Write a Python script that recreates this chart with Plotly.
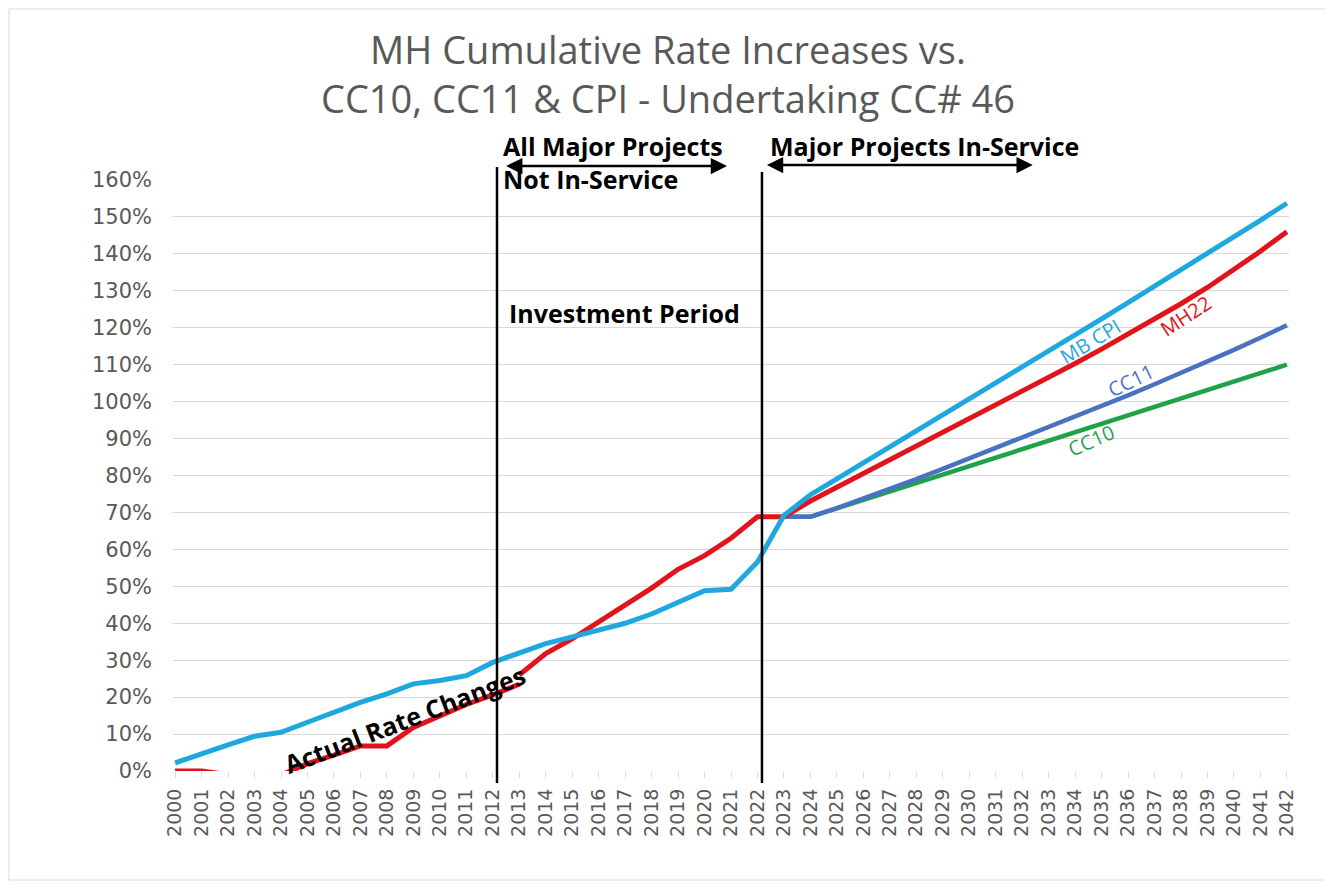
import plotly.graph_objects as go

# ---------------- data ----------------
years_actual = list(range(2000, 2014))
actual_rate = [0.0, 0.0, -1.0, -1.5, -1.1, 2.0, 4.3, 6.8, 6.8, 11.8, 14.9, 18.0, 20.6, 23.5]

years_cpi = list(range(2000, 2043))
mb_cpi = [2.2, 4.8, 7.1, 9.4, 10.5, 13.2, 15.9, 18.6, 20.9, 23.6, 24.5, 25.8, 29.4, 31.8,
          34.5, 36.3, 38.0, 40.0, 42.5, 45.5, 48.8, 49.2, 56.6, 69.2,
          74.8, 79.1, 83.4, 87.7, 92.0, 96.3, 100.6, 104.9, 109.2, 113.6, 118.0, 122.4,
          126.8, 131.2, 135.6, 140.1, 144.6, 149.1, 153.7]

years_mh22 = list(range(2013, 2043))
mh22 = [26.0, 31.8, 35.8, 40.3, 44.8, 49.5, 54.6, 58.3, 63.0, 68.8, 68.8,
        73.1, 76.8, 80.5, 84.2, 87.9, 91.6, 95.3, 99.0, 102.7, 106.5, 110.3, 114.2,
        118.2, 122.3, 126.5, 130.9, 135.6, 140.7, 146.0]

years_cc = list(range(2023, 2043))
cc11 = [68.8, 68.8, 71.2, 73.7, 76.3, 79.0, 81.8, 84.6, 87.4, 90.2, 93.0, 95.9, 98.8,
        101.7, 104.7, 107.7, 110.8, 114.0, 117.3, 120.7]
cc10 = [68.8, 68.8, 71.1, 73.4, 75.7, 78.0, 80.3, 82.6, 84.9, 87.2, 89.5, 91.8, 94.1,
        96.4, 98.7, 101.0, 103.3, 105.6, 107.8, 110.0]

x_ticks = list(range(2000, 2043))
y_ticks = list(range(0, 161, 10))

# ---------------- styles ----------------
C_CPI = "#1FA8E0"
C_RED = "#E2141B"
C_CC11 = "#4A72C2"
C_CC10 = "#1FA24A"
GRAY = "#595959"
GRID = "#D9D9D9"
TXT_FONT = "Open Sans"
TICK_FONT = "DejaVu Sans"

# page geometry (page has an 8px body margin)
W, H = 1325, 878
ML, MR, MT, MB = 165, 44, 172, 115
PL, PW = 173, 1116          # plot-area left / width in page pixels
PB, PH = 771, 591           # plot-area bottom / height in page pixels


def px(xp):
    return (xp - PL) / PW


def py(yp):
    return (PB - yp) / PH


fig = go.Figure()
fig.add_trace(go.Scatter(x=years_cc, y=cc10, mode="lines", name="CC10",
                         line=dict(color=C_CC10, width=4.5)))
fig.add_trace(go.Scatter(x=years_cc, y=cc11, mode="lines", name="CC11",
                         line=dict(color=C_CC11, width=4.5)))
fig.add_trace(go.Scatter(x=years_mh22, y=mh22, mode="lines", name="MH22",
                         line=dict(color=C_RED, width=5)))
fig.add_trace(go.Scatter(x=years_cpi, y=mb_cpi, mode="lines", name="MB CPI",
                         line=dict(color=C_CPI, width=5)))
fig.add_trace(go.Scatter(x=years_actual, y=actual_rate, mode="lines", name="Actual Rate Changes",
                         line=dict(color=C_RED, width=5)))

# vertical period lines
for xv, ytop in [(2012.16, py(167)), (2022.17, py(172))]:
    fig.add_shape(type="line", xref="x", yref="paper", x0=xv, x1=xv,
                  y0=py(783), y1=ytop, line=dict(color="black", width=2.5))

# frame
fig.add_shape(type="rect", xref="paper", yref="paper",
              x0=px(9), x1=px(1326), y0=py(880), y1=py(9),
              line=dict(color=GRID, width=1))

ann = []
bold = dict(family=TXT_FONT, size=25, color="black", weight="bold")
ann.append(dict(x=2012.3, y=py(146), xref="x", yref="paper", text="All Major Projects",
                showarrow=False, xanchor="left", yanchor="middle", font=bold))
ann.append(dict(x=2012.3, y=py(179), xref="x", yref="paper", text="Not In-Service",
                showarrow=False, xanchor="left", yanchor="middle", font=bold))
ann.append(dict(x=2022.4, y=py(146), xref="x", yref="paper", text="Major Projects In-Service",
                showarrow=False, xanchor="left", yanchor="middle", font=bold))
ann.append(dict(x=2012.55, y=124, xref="x", yref="y", text="Investment Period",
                showarrow=False, xanchor="left", yanchor="middle", font=bold))
# double arrows
for x0, x1, yp in [(2012.45, 2020.85, py(166)), (2022.3, 2032.4, py(165))]:
    ann.append(dict(x=x1, y=yp, xref="x", yref="paper", ax=x0, ay=0, axref="x", ayref="pixel",
                    text="", showarrow=True, arrowhead=2, arrowside="end+start",
                    arrowsize=1.3, arrowwidth=2.5, arrowcolor="black", standoff=0, startstandoff=0))
# rotated labels
ann.append(dict(x=2008.7, y=14.0, xref="x", yref="y", text="Actual Rate Changes", showarrow=False,
                textangle=-21, font=dict(family=TXT_FONT, size=25, color="black", weight="bold")))
ann.append(dict(x=2034.55, y=116.4, xref="x", yref="y", text="MB CPI", showarrow=False,
                textangle=-31, font=dict(family=TXT_FONT, size=20, color=C_CPI)))
ann.append(dict(x=2038.2, y=123.2, xref="x", yref="y", text="MH22", showarrow=False,
                textangle=-33, font=dict(family=TXT_FONT, size=20, color=C_RED)))
ann.append(dict(x=2036.1, y=105.6, xref="x", yref="y", text="CC11", showarrow=False,
                textangle=-26, font=dict(family=TXT_FONT, size=20, color=C_CC11)))
ann.append(dict(x=2034.6, y=89.6, xref="x", yref="y", text="CC10", showarrow=False,
                textangle=-24, font=dict(family=TXT_FONT, size=20, color=C_CC10)))

fig.update_layout(
    width=W, height=H,
    paper_bgcolor="white", plot_bgcolor="white",
    margin=dict(l=ML, r=MR, t=MT, b=MB),
    showlegend=False,
    title=dict(text="MH Cumulative Rate Increases vs.<br>CC10, CC11 & CPI - Undertaking CC# 46",
               x=660 / W, xref="container", xanchor="center", y=1 - 56 / H, yref="container",
               yanchor="middle",
               font=dict(family=TXT_FONT, size=38, color=GRAY)),
    annotations=ann,
)
fig.update_xaxes(range=[1999.92, 2042.08], tickmode="array", tickvals=x_ticks,
                 ticktext=[str(v) for v in x_ticks], tickangle=-90,
                 tickfont=dict(family=TICK_FONT, size=19, color=GRAY),
                 showgrid=False, zeroline=False, showline=False,
                 ticks="outside", ticklen=6, tickcolor=GRID, tickwidth=1,
                 ticklabelstandoff=3)
fig.update_yaxes(range=[0, 160], tickmode="array", tickvals=y_ticks,
                 ticktext=[f"{v}%" for v in y_ticks],
                 tickfont=dict(family=TICK_FONT, size=21, color=GRAY),
                 showgrid=True, gridcolor=GRID, gridwidth=1, zeroline=False,
                 showline=False, ticks="", ticklabelstandoff=20)

fig.write_html("out.html")
